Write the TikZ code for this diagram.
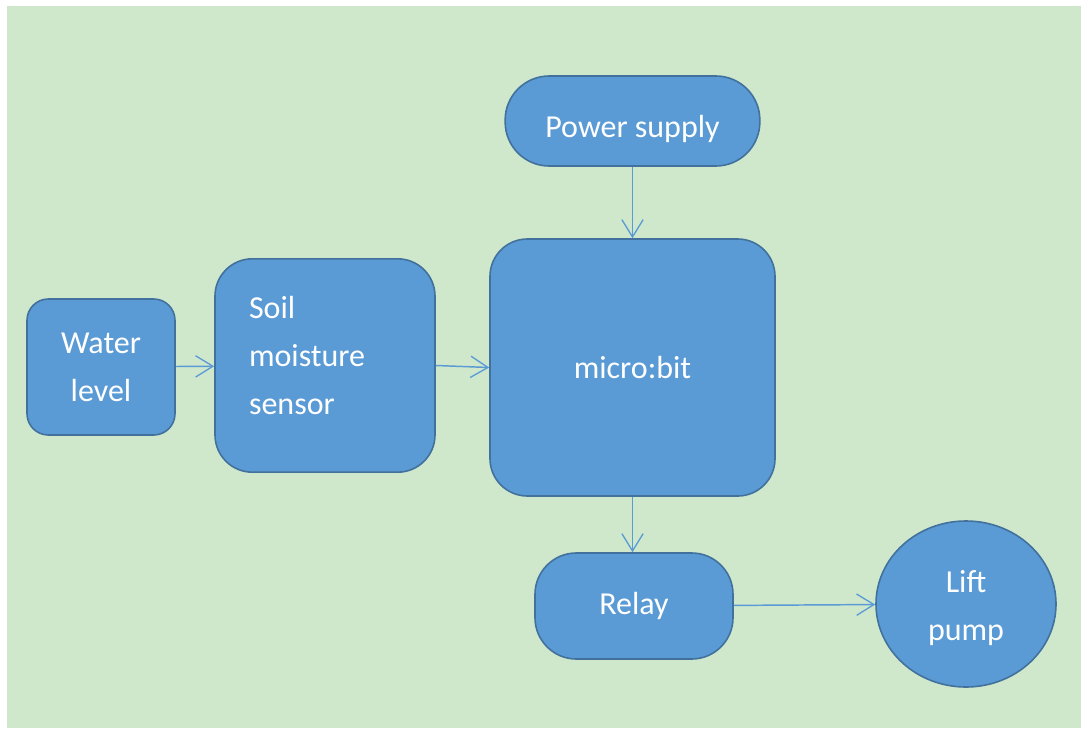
\documentclass[tikz,border=0pt]{standalone}
\usepackage{fontspec}
\setmainfont{Carlito}
\usepackage{xcolor}
\usepackage{tikz}
\usetikzlibrary{arrows.meta,shapes.geometric,positioning}

\definecolor{bgfill}{HTML}{CFE8CC}
\definecolor{blockfill}{HTML}{5B9BD5}
\definecolor{blockedge}{HTML}{41719C}
\definecolor{linkcol}{HTML}{5B9BD5}

\tikzset{
  block/.style={draw=blockedge, fill=blockfill, line width=1.2pt, text=white,
    font=\fontsize{24}{36}\selectfont, align=center},
  link/.style={draw=linkcol, line width=1.1pt,
    -{Straight Barb[length=13pt,width=16pt,line width=1pt]}}
}

\begin{document}
\begin{tikzpicture}[x=0.75pt,y=0.75pt,yscale=-1,xscale=1]
%set diagram to the size of the screenshot
\useasboundingbox (0,0) rectangle (1081,728);
\fill[bgfill] (7,6) rectangle (1081,728);

% Blocks
\node[block, minimum width=191pt, minimum height=67.5pt, rounded corners=33pt, text height=29pt] (power) at (632.5,121) {Power supply};
\node[block, minimum width=213.75pt, minimum height=192.75pt, rounded corners=28pt] (micro) at (632.5,367.5) {micro:bit};
\node[block, minimum width=111pt, minimum height=102pt, rounded corners=16pt] (water) at (101,367) {Water\\level};
\node[block, minimum width=165pt, minimum height=160pt, rounded corners=28pt, align=left, text width=114pt, inner xsep=25.5pt, text depth=87pt] (soil) at (325,365.5) {Soil\\moisture\\sensor};
\node[block, minimum width=148.5pt, minimum height=79.5pt, rounded corners=31pt] (relay) at (634,606) {Relay};
\node[block, ellipse, minimum width=135pt, minimum height=124.5pt, inner sep=0pt, text height=59pt] (pump) at (966,604) {Lift\\pump};

% Links
\draw[link] (power) -- (micro);
\draw[link] (water) -- (soil);
\draw[link] (soil.east) -- (micro.west);
\draw[link] (micro.south) -- (micro.south |- relay.north);
\draw[link] (relay) -- (pump);

\end{tikzpicture}
\end{document}
